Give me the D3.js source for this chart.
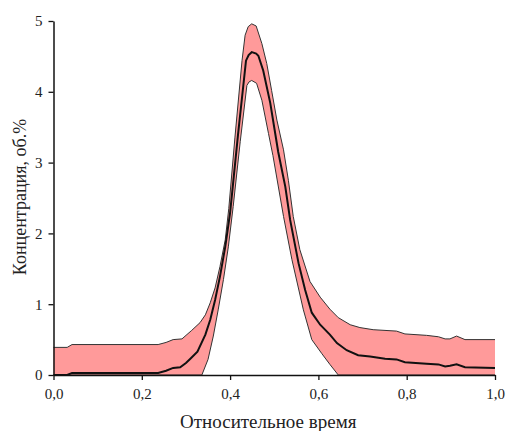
<!DOCTYPE html>
<html>
<head>
<meta charset="utf-8">
<script src="https://cdn.jsdelivr.net/npm/d3@7"></script>
<style>
  body { margin: 0; background: #fff; }
  svg text { font-family: "Liberation Serif", "DejaVu Serif", serif; fill: #222; }
</style>
</head>
<body>
<div id="chart"></div>
<script>
// upper bound of the band
const upperX = [0, 0.031, 0.042, 0.237, 0.255, 0.271, 0.291, 0.313, 0.332, 0.344, 0.355, 0.366, 0.377, 0.389, 0.397, 0.411, 0.427, 0.434, 0.441, 0.449, 0.459, 0.472, 0.483, 0.494, 0.506, 0.521, 0.532, 0.543, 0.558, 0.581, 0.604, 0.626, 0.645, 0.672, 0.694, 0.724, 0.777, 0.796, 0.845, 0.872, 0.887, 0.898, 0.913, 0.932, 1.0];
const upperY = [0.39, 0.39, 0.43, 0.43, 0.46, 0.5, 0.51, 0.63, 0.74, 0.85, 1.02, 1.23, 1.53, 1.91, 2.35, 3.36, 4.44, 4.8, 4.92, 4.96, 4.93, 4.68, 4.4, 4.02, 3.6, 3.18, 2.75, 2.24, 1.77, 1.32, 1.1, 0.93, 0.81, 0.71, 0.67, 0.64, 0.62, 0.58, 0.56, 0.54, 0.51, 0.51, 0.55, 0.5, 0.5];

// mean curve
const meanX = [0, 0.031, 0.042, 0.237, 0.255, 0.271, 0.287, 0.3, 0.31, 0.326, 0.344, 0.355, 0.366, 0.377, 0.389, 0.4, 0.418, 0.436, 0.442, 0.449, 0.459, 0.464, 0.475, 0.491, 0.509, 0.525, 0.536, 0.555, 0.57, 0.585, 0.604, 0.626, 0.642, 0.664, 0.69, 0.717, 0.751, 0.777, 0.796, 0.845, 0.872, 0.887, 0.898, 0.913, 0.932, 1.0];
const meanY = [0, 0, 0.03, 0.03, 0.06, 0.1, 0.11, 0.17, 0.23, 0.33, 0.57, 0.78, 1.06, 1.39, 1.81, 2.29, 3.4, 4.44, 4.52, 4.56, 4.54, 4.51, 4.3, 3.84, 3.15, 2.66, 2.19, 1.58, 1.2, 0.88, 0.71, 0.57, 0.45, 0.35, 0.28, 0.26, 0.23, 0.22, 0.18, 0.16, 0.15, 0.12, 0.13, 0.15, 0.11, 0.1];

// lower bound of the band
const lowerX = [0, 0.336, 0.35, 0.362, 0.373, 0.385, 0.396, 0.407, 0.423, 0.438, 0.443, 0.449, 0.46, 0.472, 0.487, 0.497, 0.521, 0.54, 0.566, 0.585, 0.608, 0.626, 0.645, 1.0];
const lowerY = [0, 0, 0.22, 0.55, 0.92, 1.35, 1.81, 2.38, 3.3, 4.09, 4.14, 4.16, 4.12, 3.88, 3.41, 3.1, 2.24, 1.63, 0.92, 0.5, 0.3, 0.15, 0, 0];

const xTicks = [0, 0.2, 0.4, 0.6, 0.8, 1.0];
const xMinor = [0.1, 0.3, 0.5, 0.7, 0.9];
const yTicks = [0, 1, 2, 3, 4, 5];
const yMinor = [0.5, 1.5, 2.5, 3.5, 4.5];

const width = 506;
const height = 431;
const margin = { left: 53.5, top: 21, right: 11, bottom: 56 };
const innerWidth = width - margin.left - margin.right;
const innerHeight = height - margin.top - margin.bottom;
const serif = '"Liberation Serif", "DejaVu Serif", serif';

const zip = (xs, ys) => xs.map((x, i) => [x, ys[i]]);
const upper = zip(upperX, upperY);
const mean = zip(meanX, meanY);
const lower = zip(lowerX, lowerY);

const svg = d3.select('#chart')
    .append('svg')
    .attr('width', width)
    .attr('height', height);

const xScale = d3.scaleLinear().domain([0, 1]).range([0, innerWidth]);
const yScale = d3.scaleLinear().domain([0, 5]).range([innerHeight, 0]);

const g = svg.append('g')
    .attr('transform', 'translate(' + margin.left + ',' + margin.top + ')');

const line = d3.line()
    .x(d => xScale(d[0]))
    .y(d => yScale(d[1]));

// band fill: upper forward, lower back
g.append('path')
    .attr('d', line(upper.concat(lower.slice().reverse())) + 'Z')
    .attr('fill', '#ff9a9a')
    .attr('stroke', 'none');

g.append('path')
    .attr('d', line(upper))
    .attr('fill', 'none')
    .attr('stroke', '#333')
    .attr('stroke-width', 1);

g.append('path')
    .attr('d', line(lower))
    .attr('fill', 'none')
    .attr('stroke', '#333')
    .attr('stroke-width', 1);

g.append('path')
    .attr('d', line(mean))
    .attr('fill', 'none')
    .attr('stroke', '#111')
    .attr('stroke-width', 2);

const fmt = d => d3.format('.1f')(d).replace('.', ',');

const xAxisG = g.append('g')
    .attr('transform', 'translate(0,' + innerHeight + ')');
xAxisG.call(d3.axisBottom(xScale).tickValues(xMinor).tickSize(3).tickFormat(''));
xAxisG.call(d3.axisBottom(xScale).tickValues(xTicks).tickSize(5).tickSizeOuter(0).tickPadding(8).tickFormat(fmt));

const yAxisG = g.append('g');
yAxisG.call(d3.axisLeft(yScale).tickValues(yMinor).tickSize(3).tickFormat(''));
yAxisG.call(d3.axisLeft(yScale).tickValues(yTicks).tickSize(5).tickSizeOuter(0).tickPadding(6).tickFormat(d3.format('d')));

xAxisG.attr('font-family', serif).attr('font-size', 15);
yAxisG.attr('font-family', serif).attr('font-size', 15);
g.selectAll('.domain').attr('stroke', '#111').attr('stroke-width', 1.5);
g.selectAll('.tick line').attr('stroke', '#111').attr('stroke-width', 1.3);
g.selectAll('.tick text')
    .style('font-family', serif)
    .style('font-size', '15px')
    .attr('fill', '#222');

svg.append('text')
    .attr('x', margin.left + innerWidth / 2 - 6)
    .attr('y', 428)
    .attr('text-anchor', 'middle')
    .style('font-family', serif)
    .style('font-size', '19px')
    .text('Относительное время');

svg.append('text')
    .attr('transform', 'translate(26,197) rotate(-90)')
    .attr('text-anchor', 'middle')
    .style('font-family', serif)
    .style('font-size', '18px')
    .text('Концентрация, об.%');
</script>
</body>
</html>
